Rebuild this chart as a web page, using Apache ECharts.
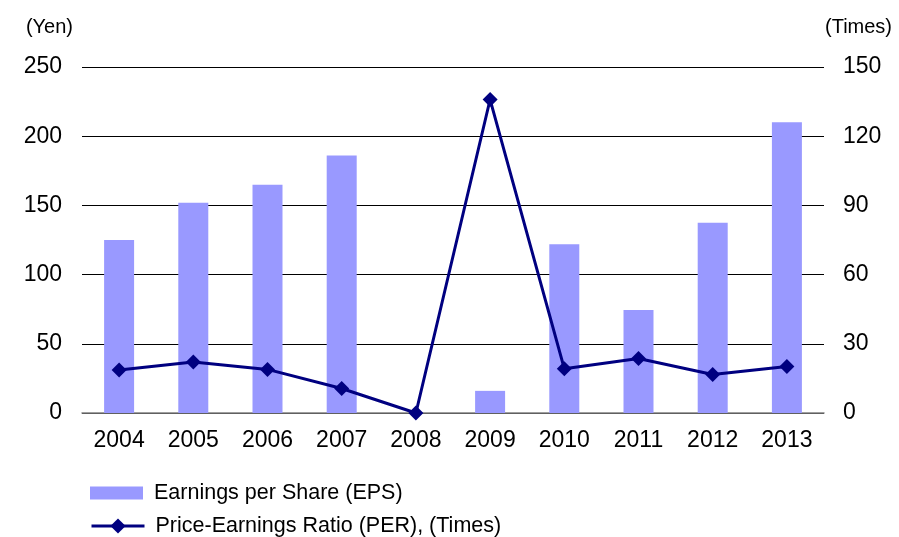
<!DOCTYPE html>
<html>
<head>
<meta charset="utf-8">
<script src="https://cdn.jsdelivr.net/npm/echarts@6/dist/echarts.min.js"></script>
<style>
  html, body { margin: 0; padding: 0; background: #fff; }
  #chart { width: 899px; height: 537px; }
</style>
</head>
<body>
<div id="chart"></div>
<script>
const years = ['2004', '2005', '2006', '2007', '2008', '2009', '2010', '2011', '2012', '2013']
const eps = [125, 152, 165, 186, 0, 16, 122, 74.5, 137.5, 210]
const per = [18.6, 22.1, 18.9, 10.6, 0, 135.9, 19.2, 23.6, 16.7, 20.2]

const font = 'Liberation Sans, Arial, sans-serif'
const legendText = { fontSize: 21.5, color: '#000', fontFamily: font, padding: [0, 0, 0, 6] }

const chart = echarts.init(document.getElementById('chart'))
chart.setOption({
  animation: false,
  textStyle: { fontFamily: font, color: '#000' },
  grid: { left: 82, right: 75, top: 67, bottom: 124 },
  // two single-item legends so each row sits where it does in the picture
  legend: [
    {
      left: 90,
      top: 482,
      padding: 0,
      itemWidth: 53,
      itemHeight: 13,
      textStyle: legendText,
      data: [{ name: 'Earnings per Share (EPS)', icon: 'rect' }]
    },
    {
      left: 90,
      top: 515,
      padding: 0,
      itemWidth: 53,
      itemHeight: 19,
      textStyle: legendText,
      lineStyle: { width: 3 },
      data: ['Price-Earnings Ratio (PER), (Times)']
    }
  ],
  xAxis: {
    type: 'category',
    data: years,
    axisLine: { lineStyle: { color: '#808080', width: 1.5 } },
    axisTick: { inside: true, length: 6, lineStyle: { color: '#808080', width: 1.5 } },
    axisLabel: { fontSize: 23, color: '#000', margin: 16, fontFamily: font }
  },
  yAxis: [
    {
      type: 'value',
      min: 0,
      max: 250,
      interval: 50,
      name: '(Yen)',
      nameLocation: 'end',
      nameGap: 30,
      nameTextStyle: { fontSize: 20, color: '#000', align: 'right', padding: [0, 9, 0, 0], fontFamily: font },
      axisLine: { show: false },
      axisTick: { show: false },
      axisLabel: { fontSize: 23, color: '#000', margin: 20, fontFamily: font },
      splitLine: { lineStyle: { color: '#000', width: 1 } }
    },
    {
      type: 'value',
      min: 0,
      max: 150,
      interval: 30,
      name: '(Times)',
      nameLocation: 'end',
      nameGap: 30,
      nameTextStyle: { fontSize: 20, color: '#000', align: 'left', padding: [0, 0, 0, 1], fontFamily: font },
      axisLine: { show: false },
      axisTick: { show: false },
      axisLabel: { fontSize: 23, color: '#000', margin: 19, fontFamily: font },
      splitLine: { show: false }
    }
  ],
  series: [
    {
      name: 'Earnings per Share (EPS)',
      type: 'bar',
      data: eps,
      barWidth: 30,
      itemStyle: { color: '#9999ff' }
    },
    {
      name: 'Price-Earnings Ratio (PER), (Times)',
      type: 'line',
      yAxisIndex: 1,
      data: per,
      symbol: 'diamond',
      symbolSize: 15,
      lineStyle: { color: '#000080', width: 3 },
      itemStyle: { color: '#000080' }
    }
  ]
})
</script>
</body>
</html>
